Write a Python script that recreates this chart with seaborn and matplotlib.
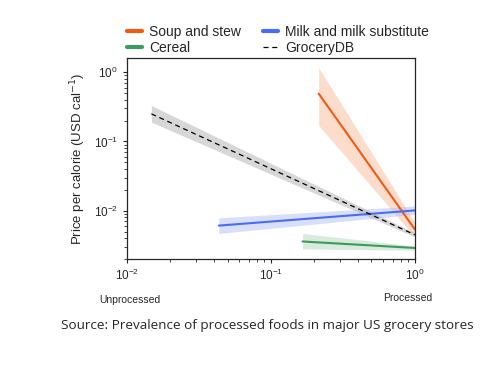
import numpy as np
import pandas as pd
import matplotlib
matplotlib.use("Agg")
import matplotlib.pyplot as plt
import seaborn as sns

# fitted lines (start / end of each fit)
soup_x = [0.215, 1.0]
soup_y = [0.49, 0.0054]
soup_lo = [0.17, 0.0042]
soup_hi = [1.16, 0.0068]

milk_x = [0.0435, 1.0]
milk_y = [0.0061, 0.0101]
milk_lo = [0.0047, 0.0089]
milk_hi = [0.0079, 0.0117]

cereal_x = [0.166, 1.0]
cereal_y = [0.0036, 0.0029]
cereal_lo = [0.0028, 0.0027]
cereal_hi = [0.0047, 0.0031]

grocery_x = [0.0148, 1.0]
grocery_y = [0.25, 0.0045]
grocery_lo = [0.19, 0.0042]
grocery_hi = [0.33, 0.0048]

names = ["Soup and stew", "Cereal", "Milk and milk substitute", "GroceryDB"]
colors = ["#f25a14", "#3d9a5c", "#4a6cf5", "black"]
band_colors = ["#f9b48f", "#a9d4b4", "#a9b9f7", "#b0b0b0"]

sns.set_style("ticks")
plt.rcParams['font.family'] = ['Liberation Sans', 'DejaVu Sans']

fig = plt.figure(figsize=(4.88, 3.65), dpi=100)
ax = fig.add_axes([0.260, 0.290, 0.590, 0.551])

series = [
    (soup_x, soup_y, soup_lo, soup_hi),
    (cereal_x, cereal_y, cereal_lo, cereal_hi),
    (milk_x, milk_y, milk_lo, milk_hi),
    (grocery_x, grocery_y, grocery_lo, grocery_hi),
]

for (x, y, lo, hi), name, c, bc in zip(series, names, colors, band_colors):
    ax.fill_between(x, lo, hi, color=bc, alpha=0.45 if name != "GroceryDB" else 0.5, lw=0)
    df = pd.DataFrame({"x": x, "y": y})
    if name == "GroceryDB":
        sns.lineplot(data=df, x="x", y="y", ax=ax, color=c, lw=0.9,
                     linestyle=(0, (4, 3)), label=name)
    else:
        sns.lineplot(data=df, x="x", y="y", ax=ax, color=c, lw=1.5, label=name)

ax.set_xscale("log")
ax.set_yscale("log")
ax.set_xlim(0.01, 1.0)
ax.set_ylim(0.002, 1.6)
ax.set_xticks([0.01, 0.1, 1.0])
ax.set_yticks([0.01, 0.1, 1.0])
ax.tick_params(labelsize=8.5, length=3, width=0.8)
ax.tick_params(which="minor", length=2, width=0.6)
for s in ax.spines.values():
    s.set_linewidth(0.9)
ax.set_xlabel("")
ax.set_ylabel("Price per calorie (USD cal$^{-1}$)", fontsize=9.5)

leg = ax.legend(loc="lower left", bbox_to_anchor=(-0.03, 0.975), ncol=2, frameon=False,
                fontsize=10, handlelength=1.1, handletextpad=0.5, columnspacing=1.6,
                labelspacing=0.1, borderaxespad=0.2)
for h, name in zip(leg.get_lines(), names):
    if name != "GroceryDB":
        h.set_linewidth(3)

fig.text(130 / 488, 1 - 300 / 365, "Unprocessed", fontsize=7.5, ha="center", va="center")
fig.text(408 / 488, 1 - 298 / 365, "Processed", fontsize=7.5, ha="center", va="center")
fig.text(267 / 488, 1 - 325 / 365, "Source: Prevalence of processed foods in major US grocery stores",
         fontsize=9.7, ha="center", va="center", family=["Open Sans", "DejaVu Sans"])

fig.savefig("out.png", dpi=100)
